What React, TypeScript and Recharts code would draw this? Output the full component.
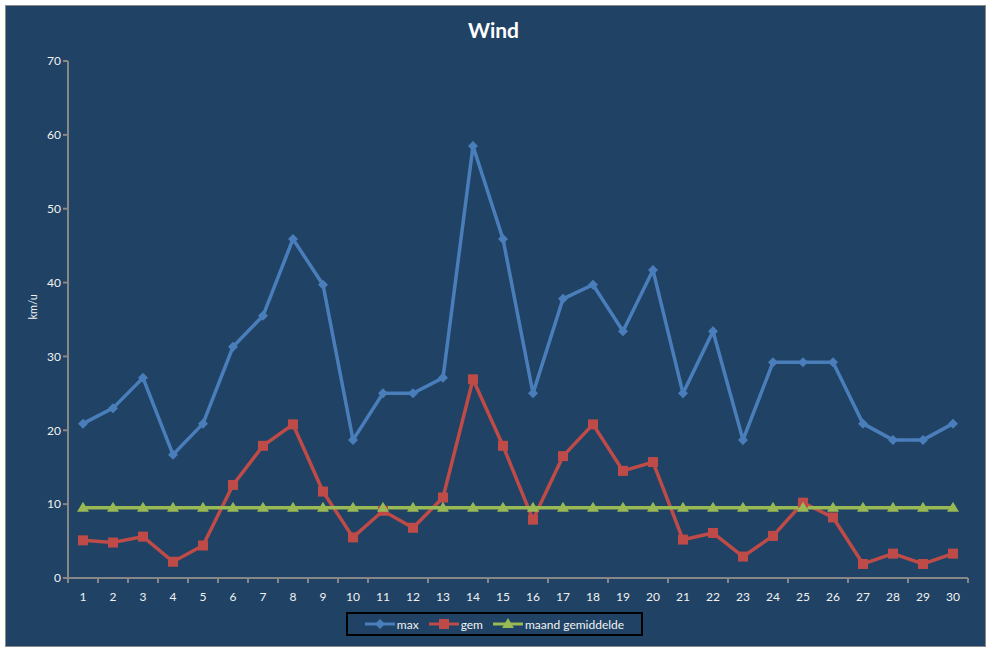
import React from "react"
import { Legend, Line, LineChart, XAxis, YAxis } from "recharts"

const days = [1, 2, 3, 4, 5, 6, 7, 8, 9, 10, 11, 12, 13, 14, 15, 16, 17, 18, 19, 20, 21, 22, 23, 24, 25, 26, 27, 28, 29, 30]
const maxWind = [20.9, 23, 27.1, 16.7, 20.9, 31.3, 35.5, 45.9, 39.7, 18.7, 25, 25, 27.1, 58.5, 45.9, 25, 37.8, 39.7, 33.4, 41.7, 25, 33.4, 18.7, 29.2, 29.2, 29.2, 20.9, 18.7, 18.7, 20.9]
const avgWind = [5.1, 4.8, 5.6, 2.2, 4.4, 12.6, 17.9, 20.8, 11.7, 5.5, 9.1, 6.8, 10.9, 26.9, 17.9, 7.9, 16.5, 20.8, 14.5, 15.7, 5.2, 6.1, 2.9, 5.7, 10.2, 8.2, 1.9, 3.3, 1.9, 3.3]
const monthAvg = [9.5, 9.5, 9.5, 9.5, 9.5, 9.5, 9.5, 9.5, 9.5, 9.5, 9.5, 9.5, 9.5, 9.5, 9.5, 9.5, 9.5, 9.5, 9.5, 9.5, 9.5, 9.5, 9.5, 9.5, 9.5, 9.5, 9.5, 9.5, 9.5, 9.5]
const yTicks = [0, 10, 20, 30, 40, 50, 60, 70]
const bandEdges = [0.5, 1.5, 2.5, 3.5, 4.5, 5.5, 6.5, 7.5, 8.5, 9.5, 10.5, 11.5, 12.5, 13.5, 14.5, 15.5, 16.5, 17.5, 18.5, 19.5, 20.5, 21.5, 22.5, 23.5, 24.5, 25.5, 26.5, 27.5, 28.5, 29.5, 30.5]

const data = days.map((d, i) => ({
  day: d,
  max: maxWind[i],
  gem: avgWind[i],
  maand: monthAvg[i],
}))

const BG = "#1f4265"
const AXIS = "#878787"
const TEXT = "#f2f2f2"
const FONT = "Lato, 'Liberation Sans', sans-serif"

const BLUE = "#4a7ebb"
const RED = "#be4b48"
const GREEN = "#98b954"

const diamond = (props: any) => {
  const { cx, cy, key } = props
  return <polygon key={key} points={`${cx},${cy - 5} ${cx + 5},${cy} ${cx},${cy + 5} ${cx - 5},${cy}`} fill={BLUE} />
}

const square = (props: any) => {
  const { cx, cy, key } = props
  return <rect key={key} x={cx - 5} y={cy - 5} width={10} height={10} fill={RED} />
}

const triangle = (props: any) => {
  const { cx, cy, key } = props
  return <polygon key={key} points={`${cx},${cy - 6} ${cx + 6},${cy + 4} ${cx - 6},${cy + 4}`} fill={GREEN} />
}

const legendItems = [
  { name: "max", color: BLUE, shape: "diamond" },
  { name: "gem", color: RED, shape: "square" },
  { name: "maand gemiddelde", color: GREEN, shape: "triangle" },
]

function LegendBox() {
  return (
    <div
      style={{
        width: 293,
        height: 20,
        border: "2px solid #000",
        display: "flex",
        alignItems: "center",
        justifyContent: "center",
        gap: 10,
        fontFamily: FONT,
        fontSize: 12,
        color: TEXT,
      }}
    >
      {legendItems.map((it) => (
        <div key={it.name} style={{ display: "flex", alignItems: "center" }}>
          <svg width={30} height={12}>
            <line x1={0} y1={6} x2={30} y2={6} stroke={it.color} strokeWidth={3} />
            {it.shape === "diamond" && <polygon points="15,1 20,6 15,11 10,6" fill={it.color} />}
            {it.shape === "square" && <rect x={10} y={1} width={10} height={10} fill={it.color} />}
            {it.shape === "triangle" && <polygon points="15,0 21,10 9,10" fill={it.color} />}
          </svg>
          <span style={{ marginLeft: 2 }}>{it.name}</span>
        </div>
      ))}
    </div>
  )
}

export default function App() {
  return (
    <div style={{ position: "absolute", left: 0, top: 0, width: 987, height: 648, background: "#fff" }}>
      <div
        style={{
          position: "absolute",
          left: 5,
          top: 5,
          width: 979,
          height: 640,
          background: BG,
          border: "1px solid #8a8a8a",
        }}
      />
      <div
        style={{
          position: "absolute",
          left: 0,
          top: 17,
          width: 987,
          textAlign: "center",
          fontFamily: FONT,
          fontWeight: "bold",
          fontSize: 21,
          color: "#fff",
        }}
      >
        Wind
      </div>
      <div style={{ position: "absolute", left: 0, top: 0 }}>
        <LineChart width={987} height={648} data={data} margin={{ top: 61, right: 19, bottom: 16, left: 0 }}>
          <XAxis
            xAxisId="edges"
            dataKey="day"
            type="number"
            domain={[0.5, 30.5]}
            ticks={bandEdges}
            tick={() => <g />}
            tickSize={5}
            height={6}
            stroke={AXIS}
            strokeWidth={2}
            allowDataOverflow
          />
          <XAxis
            xAxisId="labels"
            dataKey="day"
            type="number"
            domain={[0.5, 30.5]}
            ticks={days}
            interval={0}
            axisLine={false}
            tickLine={false}
            tickSize={6}
            height={24}
            tick={{ fill: TEXT, fontSize: 12, fontFamily: FONT }}
          />
          <YAxis
            domain={[0, 70]}
            ticks={yTicks}
            width={68}
            stroke={AXIS}
            strokeWidth={2}
            tickSize={5}
            tick={{ fill: TEXT, fontSize: 12, fontFamily: FONT }}
            label={{
              value: "km/u",
              angle: -90,
              position: "insideLeft",
              dx: 28,
              fill: TEXT,
              fontSize: 11,
              fontFamily: FONT,
            }}
          />
          <Legend
            verticalAlign="bottom"
            content={() => <LegendBox />}
            wrapperStyle={{ left: 346, width: 297, bottom: 12, height: 24 }}
          />
          <Line
            xAxisId="labels"
            dataKey="max"
            stroke={BLUE}
            strokeWidth={3.5}
            dot={diamond}
            activeDot={false}
            isAnimationActive={false}
            legendType="none"
          />
          <Line
            xAxisId="labels"
            dataKey="gem"
            stroke={RED}
            strokeWidth={3.5}
            dot={square}
            activeDot={false}
            isAnimationActive={false}
          />
          <Line
            xAxisId="labels"
            dataKey="maand"
            stroke={GREEN}
            strokeWidth={3.5}
            dot={triangle}
            activeDot={false}
            isAnimationActive={false}
          />
        </LineChart>
      </div>
    </div>
  )
}
